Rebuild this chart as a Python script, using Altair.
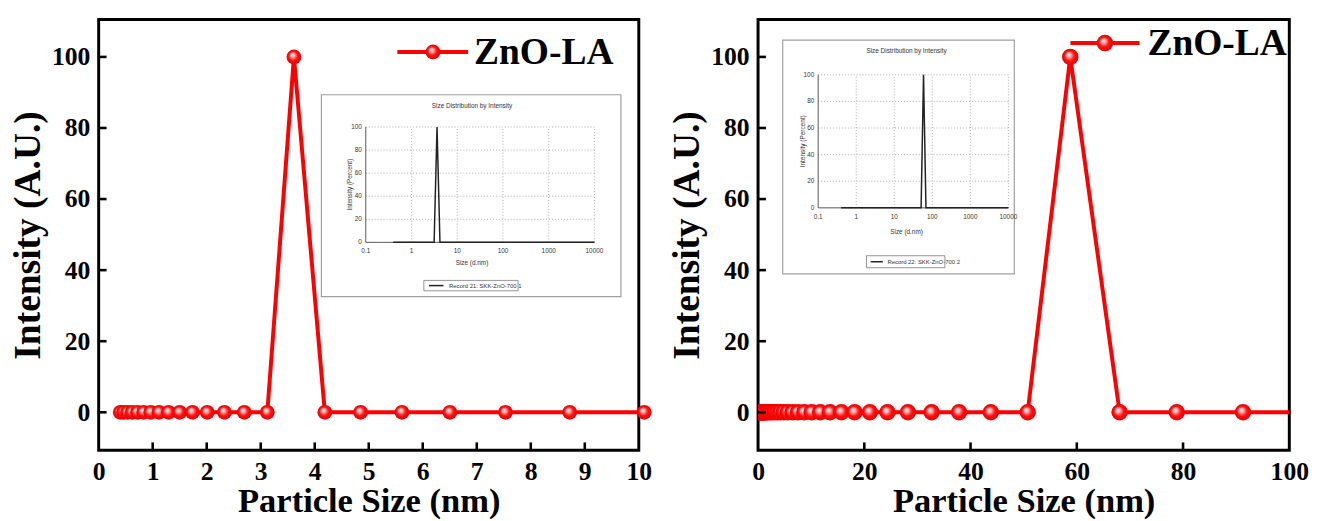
import altair as alt
import pandas as pd

# ---------------- data ----------------
left_size = [0.4, 0.4632, 0.5365, 0.6213, 0.7195, 0.8332, 0.9649, 1.117, 1.294,
             1.499, 1.736, 2.010, 2.328, 2.696, 3.122, 3.615, 4.187, 4.849,
             5.615, 6.503, 7.531, 8.721, 10.10]
left_int = [0, 0, 0, 0, 0, 0, 0, 0, 0, 0, 0, 0, 0, 0, 0, 100, 0, 0, 0, 0, 0, 0, 0]

right_size = [0.4, 0.4632, 0.5365, 0.6213, 0.7195, 0.8332, 0.9649, 1.117, 1.294,
              1.499, 1.736, 2.010, 2.328, 2.696, 3.122, 3.615, 4.187, 4.849,
              5.615, 6.503, 7.531, 8.721, 10.10, 11.70, 13.54, 15.69, 18.17,
              21.04, 24.36, 28.21, 32.67, 37.84, 43.82, 50.75, 58.77, 68.06,
              78.82, 91.28, 105.7]
right_int = [0, 0, 0, 0, 0, 0, 0, 0, 0, 0, 0, 0, 0, 0, 0, 0, 0, 0, 0, 0, 0, 0,
             0, 0, 0, 0, 0, 0, 0, 0, 0, 0, 0, 0, 100, 0, 0, 0, 0]

# inset (DLS software) curves
inset_left_size = [0.4, 1.0, 2.0, 3.122, 3.615, 4.187, 10, 100, 1000, 10000]
inset_left_int = [0, 0, 0, 0, 100, 0, 0, 0, 0, 0]
inset_right_size = [0.4, 1.0, 10, 43.82, 50.75, 58.77, 68.06, 100, 1000, 10000]
inset_right_int = [0, 0, 0, 0, 0, 100, 0, 0, 0, 0]

y_ticks = [0, 20, 40, 60, 80, 100]
left_x_labels = [0, 1, 2, 3, 4, 5, 6, 7, 8, 9, 10]
left_x_ticks = [1, 2, 3, 4, 5, 6, 7, 8, 9]
right_x_labels = [0, 20, 40, 60, 80, 100]
right_x_ticks = [20, 40, 60, 80]

inset_x_labels = [0.1, 1, 10, 100, 1000, 10000]
inset_x_text = ["0.1", "1", "10", "100", "1000", "10000"]
inset_x_grid = [1, 10, 100, 1000, 10000]
inset_y_labels = [0, 20, 40, 60, 80, 100]
inset_y_grid = [20, 40, 60, 80, 100]

series_name = "ZnO-LA"
x_title = "Particle Size (nm)"
y_title = "Intensity (A.U.)"
inset_title = "Size Distribution by Intensity"
inset_xt = "Size (d.nm)"
inset_yt = "Intensity (Percent)"
left_record = "Record 21: SKK-ZnO-700 1"
right_record = "Record 22: SKK-ZnO-700 2"

# ---------------- style ----------------
RED = "#ff0000"
SERIF = "Liberation Serif"
SANS = "Liberation Sans"
Y_DOM = [-10.7, 110.5]
H = 437
PX_PER_Y = H / (Y_DOM[1] - Y_DOM[0])
TICK_LEN = 8

ball = alt.RadialGradient(
    gradient="radial",
    stops=[alt.GradientStop(color="#ffffff", offset=0),
           alt.GradientStop(color="#ffb0b0", offset=0.25),
           alt.GradientStop(color="#ff1010", offset=0.6),
           alt.GradientStop(color="#e80000", offset=1)],
    x1=0.38, y1=0.35, r1=0, x2=0.5, y2=0.5, r2=0.5)


def inset(rx, ry, sizes, vals, frame, ytitle_x, boxy, record):
    xs = alt.Scale(type="log", domain=[0.1, 10000], range=rx, nice=False)
    ys = alt.Scale(domain=[0, 100], range=ry, nice=False, zero=False)
    X = lambda f: alt.X(f, scale=xs, axis=None)
    Y = lambda f: alt.Y(f, scale=ys, axis=None)

    fr = pd.DataFrame({"x": [frame[0]], "x2": [frame[1]], "y": [frame[2]], "y2": [frame[3]]})
    lay = [alt.Chart(fr).mark_rect(fill="white", stroke="#a0a0a0", strokeWidth=1.2)
           .encode(x=X("x:Q"), x2="x2:Q", y=Y("y:Q"), y2="y2:Q")]

    vg = pd.DataFrame({"x": inset_x_grid, "y0": [0] * 5, "y1": [100] * 5})
    lay.append(alt.Chart(vg).mark_rule(color="#9a9a9a", strokeWidth=0.8, strokeDash=[1, 2])
               .encode(x=X("x:Q"), y=Y("y0:Q"), y2="y1:Q"))
    hg = pd.DataFrame({"y": inset_y_grid, "x0": [0.1] * 5, "x1": [10000] * 5})
    lay.append(alt.Chart(hg).mark_rule(color="#9a9a9a", strokeWidth=0.8, strokeDash=[1, 2])
               .encode(y=Y("y:Q"), x=X("x0:Q"), x2="x1:Q"))
    ax = pd.DataFrame({"x0": [0.1, 0.1], "x1": [0.1, 10000], "y0": [0, 0], "y1": [100, 0]})
    lay.append(alt.Chart(ax).mark_rule(color="#444444", strokeWidth=0.9)
               .encode(x=X("x0:Q"), x2="x1:Q", y=Y("y0:Q"), y2="y1:Q"))

    cv = pd.DataFrame({"s": sizes, "v": vals})
    lay.append(alt.Chart(cv).mark_line(color="#222222", strokeWidth=1.5)
               .encode(x=X("s:Q"), y=Y("v:Q")))

    yl = pd.DataFrame({"x": [0.1] * 6, "y": inset_y_labels, "t": [str(v) for v in inset_y_labels]})
    lay.append(alt.Chart(yl).mark_text(font=SANS, fontSize=6.5, align="right", baseline="middle",
                                       dx=-4, color="#333333")
               .encode(x=X("x:Q"), y=Y("y:Q"), text="t:N"))
    xl = pd.DataFrame({"x": inset_x_labels, "y": [0] * 6, "t": inset_x_text})
    lay.append(alt.Chart(xl).mark_text(font=SANS, fontSize=6.5, align="center", baseline="middle",
                                       dy=9, color="#333333")
               .encode(x=X("x:Q"), y=Y("y:Q"), text="t:N"))

    tt = pd.DataFrame({"x": [21, 21, ytitle_x], "y": [118, -18, 50],
                       "t": [inset_title, inset_xt, inset_yt]})
    lay.append(alt.Chart(tt.iloc[:2]).mark_text(font=SANS, fontSize=6.5, align="center",
                                                baseline="middle", color="#333333")
               .encode(x=X("x:Q"), y=Y("y:Q"), text="t:N"))
    lay.append(alt.Chart(tt.iloc[2:]).mark_text(font=SANS, fontSize=6.5, align="center",
                                                baseline="middle", angle=270, color="#333333")
               .encode(x=X("x:Q"), y=Y("y:Q"), text="t:N"))

    bx = pd.DataFrame({"x": [1.86], "x2": [214], "y": [boxy[0]], "y2": [boxy[1]]})
    lay.append(alt.Chart(bx).mark_rect(fill="white", stroke="#777777", strokeWidth=0.8)
               .encode(x=X("x:Q"), x2="x2:Q", y=Y("y:Q"), y2="y2:Q"))
    my = (boxy[0] + boxy[1]) / 2
    bl = pd.DataFrame({"x": [2.4, 5.0], "y": [my, my]})
    lay.append(alt.Chart(bl).mark_line(color="#222222", strokeWidth=1.5)
               .encode(x=X("x:Q"), y=Y("y:Q")))
    bt = pd.DataFrame({"x": [6.6], "y": [my], "t": [record]})
    lay.append(alt.Chart(bt).mark_text(font=SANS, fontSize=6, align="left", baseline="middle",
                                       color="#333333")
               .encode(x=X("x:Q"), y=Y("y:Q"), text="t:N"))
    return alt.layer(*lay)


def panel(sizes, vals, xdom, width, xlabels, xticks, clip, psize, leg, ins):
    xs = alt.Scale(domain=xdom, nice=False, zero=False)
    ys = alt.Scale(domain=Y_DOM, nice=False, zero=False)
    px_per_x = width / (xdom[1] - xdom[0])
    x_axis = alt.Axis(values=xlabels, title=x_title, orient="bottom", ticks=False, grid=False,
                      domain=False, format="d", labelFont=SERIF, labelFontSize=26,
                      labelFontWeight="bold", labelColor="black", labelPadding=9,
                      labelOverlap=False, labelFlush=False,
                      titleFont=SERIF, titleFontSize=35, titleFontWeight="bold",
                      titleColor="black", titlePadding=-1)
    y_axis = alt.Axis(values=y_ticks, title=y_title, orient="left", ticks=False, grid=False,
                      domain=False, format="d", labelFont=SERIF, labelFontSize=26,
                      labelFontWeight="bold", labelColor="black", labelPadding=9,
                      labelOverlap=False, labelFlush=False,
                      titleFont=SERIF, titleFontSize=38, titleFontWeight="bold",
                      titleColor="black", titlePadding=4)
    df = pd.DataFrame({"size": sizes, "val": vals})
    line = alt.Chart(df).mark_line(color=RED, strokeWidth=4, clip=clip).encode(
        x=alt.X("size:Q", scale=xs, axis=x_axis), y=alt.Y("val:Q", scale=ys, axis=y_axis))
    pts = alt.Chart(df).mark_point(shape="circle", filled=True, fill=ball, opacity=1,
                                   size=psize, clip=clip).encode(
        x=alt.X("size:Q", scale=xs), y=alt.Y("val:Q", scale=ys))

    # inward ticks
    xt = pd.DataFrame({"t": xticks, "y0": [Y_DOM[0]] * len(xticks),
                       "y1": [Y_DOM[0] + TICK_LEN / PX_PER_Y] * len(xticks)})
    xtk = alt.Chart(xt).mark_rule(strokeWidth=2.6, color="black").encode(
        x=alt.X("t:Q", scale=xs), y=alt.Y("y0:Q", scale=ys), y2="y1:Q")
    yt = pd.DataFrame({"t": y_ticks, "x0": [xdom[0]] * len(y_ticks),
                       "x1": [xdom[0] + TICK_LEN / px_per_x] * len(y_ticks)})
    ytk = alt.Chart(yt).mark_rule(strokeWidth=2.6, color="black").encode(
        y=alt.Y("t:Q", scale=ys), x=alt.X("x0:Q", scale=xs), x2="x1:Q")

    lx0, lx1, lxc, ltx, ly = leg
    ll = pd.DataFrame({"x": [lx0, lx1], "y": [ly, ly]})
    legl = alt.Chart(ll).mark_line(color=RED, strokeWidth=4).encode(
        x=alt.X("x:Q", scale=xs), y=alt.Y("y:Q", scale=ys))
    lp = pd.DataFrame({"x": [lxc], "y": [ly]})
    legp = alt.Chart(lp).mark_point(shape="circle", filled=True, fill=ball, opacity=1,
                                    size=psize).encode(
        x=alt.X("x:Q", scale=xs), y=alt.Y("y:Q", scale=ys))
    lt = pd.DataFrame({"x": [ltx], "y": [ly], "t": [series_name]})
    legt = alt.Chart(lt).mark_text(font=SERIF, fontSize=38, fontWeight="bold", align="left",
                                   baseline="middle", color="black", dy=1).encode(
        x=alt.X("x:Q", scale=xs), y=alt.Y("y:Q", scale=ys), text="t:N")

    main = alt.layer(line, pts, xtk, ytk, legl, legp, legt)
    return alt.layer(main, inset(*ins)).resolve_scale(x="independent", y="independent") \
        .properties(width=width, height=H)


left = panel(left_size, left_int, [0, 10], 548, left_x_labels, left_x_ticks, False, 225,
             (5.53, 6.84, 6.19, 6.95, 101.4),
             ([271, 503], [226, 109], inset_left_size, inset_left_int,
              (0.0107, 38000, 128, -47), 0.045, (-33, -42), left_record))
right = panel(right_size, right_int, [0, 100], 539, right_x_labels, right_x_ticks, True, 280,
              (58.8, 71.8, 65.3, 73.3, 103.9),
              ([61, 254], [191, 56], inset_right_size, inset_right_int,
               (0.0117, 14300, 126, -49.6), 0.039, (-36, -45), right_record))

chart = alt.hconcat(left, right, spacing=14, background="white").properties(
    padding={"left": 0, "top": 6, "right": 0, "bottom": 0}
).configure_view(stroke="black", strokeWidth=3)

chart.save("out.html", embed_options={"renderer": "svg", "actions": False})
